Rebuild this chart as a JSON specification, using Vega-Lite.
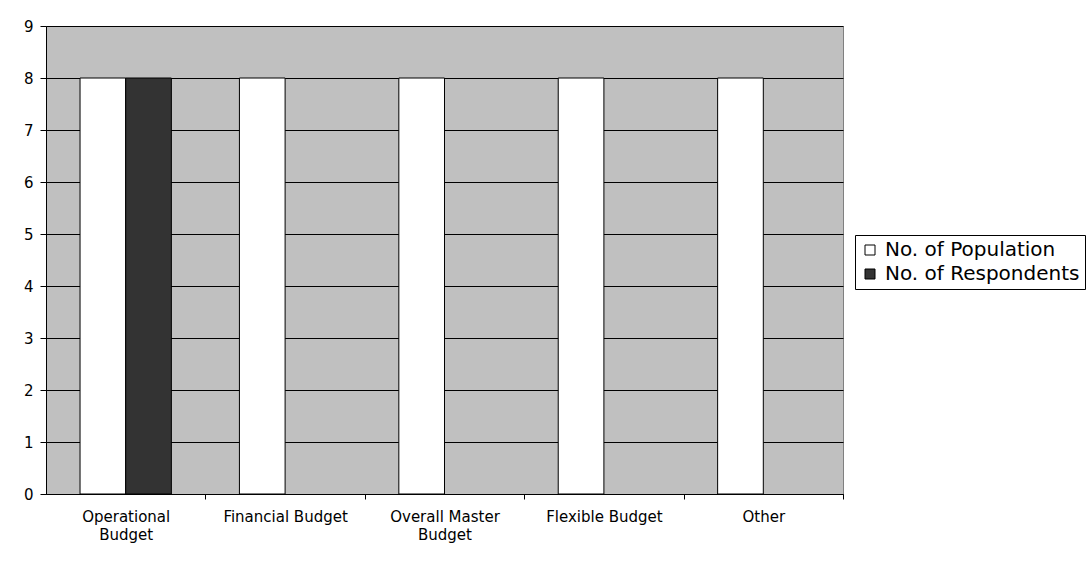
{
  "$schema": "https://vega.github.io/schema/vega-lite/v6.json",
  "autosize": {"type": "none"},
  "padding": {"left": 46, "top": 26, "right": 247, "bottom": 67},
  "width": 797,
  "height": 468,
  "background": "#FFFFFF",
  "data": {
    "values": [
      {"category": "Operational Budget", "series": "No. of Population", "value": 8},
      {"category": "Operational Budget", "series": "No. of Respondents", "value": 8},
      {"category": "Financial Budget", "series": "No. of Population", "value": 8},
      {"category": "Overall Master Budget", "series": "No. of Population", "value": 8},
      {"category": "Flexible Budget", "series": "No. of Population", "value": 8},
      {"category": "Other", "series": "No. of Population", "value": 8}
    ]
  },
  "mark": {"type": "bar", "stroke": "#000000", "strokeWidth": 1},
  "encoding": {
    "x": {
      "field": "category",
      "type": "nominal",
      "sort": ["Operational Budget", "Financial Budget", "Overall Master Budget", "Flexible Budget", "Other"],
      "scale": {"paddingInner": 0.427, "paddingOuter": 0.2135},
      "axis": {
        "title": null,
        "labelAngle": 0,
        "labelFont": "DejaVu Sans",
        "labelFontSize": 15,
        "labelColor": "#000000",
        "labelPadding": 10,
        "labelLineHeight": 18,
        "labelOffset": -79.7,
        "tickOffset": 79.7,
        "labelExpr": "datum.value == 'Operational Budget' ? ['Operational', 'Budget'] : datum.value == 'Overall Master Budget' ? ['Overall Master', 'Budget'] : datum.value",
        "domainColor": "#000000",
        "tickColor": "#000000",
        "tickSize": 5,
        "grid": false
      }
    },
    "xOffset": {
      "field": "series",
      "type": "nominal",
      "scale": {"domain": ["No. of Population", "No. of Respondents"], "paddingInner": 0, "paddingOuter": 0}
    },
    "y": {
      "field": "value",
      "type": "quantitative",
      "scale": {"domain": [0, 9], "nice": false},
      "axis": {
        "title": null,
        "values": [0, 1, 2, 3, 4, 5, 6, 7, 8, 9],
        "labelFont": "DejaVu Sans",
        "labelFontSize": 15,
        "labelColor": "#000000",
        "labelPadding": 7,
        "domainColor": "#000000",
        "tickColor": "#000000",
        "tickSize": 6,
        "grid": true,
        "gridColor": "#000000",
        "gridOpacity": 1,
        "gridWidth": 1
      }
    },
    "color": {
      "field": "series",
      "type": "nominal",
      "scale": {"domain": ["No. of Population", "No. of Respondents"], "range": ["#FFFFFF", "#333333"]},
      "legend": {
        "title": null,
        "orient": "none",
        "legendX": 809,
        "legendY": 209,
        "symbolType": "square",
        "symbolSize": 100,
        "symbolStrokeColor": "#000000",
        "symbolStrokeWidth": 1,
        "symbolOpacity": 1,
        "labelFont": "DejaVu Sans",
        "labelFontSize": 20,
        "labelColor": "#000000",
        "labelOffset": 5,
        "labelLimit": 400,
        "rowPadding": 4,
        "padding": 5,
        "strokeColor": "#000000",
        "fillColor": "#FFFFFF"
      }
    }
  },
  "config": {
    "view": {"fill": "#C0C0C0", "stroke": "#808080", "strokeWidth": 1},
    "axis": {"domainWidth": 1, "tickWidth": 1}
  }
}
